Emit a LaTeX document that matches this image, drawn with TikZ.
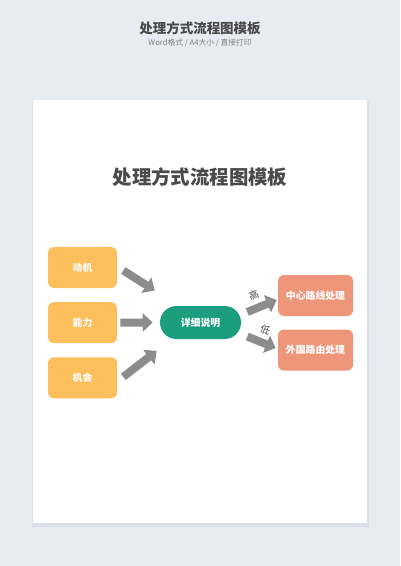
\documentclass[tikz,border=0pt]{standalone}
\usepackage{fontspec}
\setmainfont{Noto Sans CJK SC}
\usetikzlibrary{positioning,arrows.meta,calc}
\definecolor{bgcolor}{HTML}{E8EBF2}
\definecolor{shadowcolor}{HTML}{DCDFE7}
\definecolor{boxorange}{HTML}{FDBE5C}
\definecolor{boxgreen}{HTML}{1B9E7E}
\definecolor{boxsalmon}{HTML}{EE967A}
\definecolor{arrowgray}{HTML}{8C8C8C}
\definecolor{titlegray}{HTML}{4A4A4A}
\tikzset{
  inputbox/.style={fill = boxorange, rounded corners = 1.5mm, minimum width = 17.25mm, minimum height = 10.25mm, text = white, font = \bfseries\fontsize{7}{8}\selectfont},
  midbox/.style={fill = boxgreen, rounded corners = 4.1mm, minimum width = 20.25mm, minimum height = 8.25mm, text = white, font = \bfseries\fontsize{7}{8}\selectfont},
  outbox/.style={fill = boxsalmon, rounded corners = 1.5mm, minimum width = 18.75mm, minimum height = 10.25mm, text = white, font = \bfseries\fontsize{7}{8}\selectfont},
  blockarrow/.style={draw = arrowgray, line width = 2mm, -{Triangle[length = 2.5mm, width = 4.5mm]}},
  arrowlabel/.style={text = titlegray, font = \fontsize{7}{8}\selectfont, inner sep = 1pt}
}
\begin{document}
\begin{tikzpicture}[x = 0.25mm, y = -0.25mm]
\fill[bgcolor] (0,0) rectangle (400,566);
\fill[shadowcolor] (32,101) rectangle (369,527);
\fill[white] (33,100) rectangle (367,523);
\node[text = titlegray, font = \bfseries\fontsize{9.6}{11}\selectfont] (header) at (200,28) {处理方式流程图模板};
\node[text = gray, font = \fontsize{5.5}{6.5}\selectfont] (subtitle) at (200,43) {Word格式 / A4大小 / 直接打印};
\node[text = titlegray, font = \bfseries\fontsize{13.8}{16}\selectfont] (title) at (200,177) {处理方式流程图模板};
\node[inputbox] (dongji) at (82.5,267.5) {动机};
\node[inputbox, below = 3.4mm of dongji] (nengli) {能力};
\node[inputbox, below = 3.4mm of nengli] (jihui) {机会};
\node[midbox] (xiangxi) at (200.5,322.5) {详细说明};
\node[outbox] (zhongxin) at (315.5,295.5) {中心路线处理};
\node[outbox, below = 3.25mm of zhongxin] (waiguo) {外国路由处理};
\draw[blockarrow] ($(dongji.east)+(6,3)$) -- ($(xiangxi.west)+(-5,-32)$);
\draw[blockarrow] ($(nengli.east)+(3,0)$) -- ($(xiangxi.west)+(-7,0)$);
\draw[blockarrow] ($(jihui.east)+(6,-1)$) -- ($(xiangxi.west)+(-3,28.5)$);
\draw[blockarrow] ($(xiangxi.east)+(6,-10.5)$) -- ($(zhongxin.west)+(-1,4.5)$) node[arrowlabel, pos = 0.35, above = 0.9mm, rotate = 22] {高};
\draw[blockarrow] ($(xiangxi.east)+(6,14)$) -- ($(waiguo.west)+(-2,-2)$) node[arrowlabel, pos = 0.5, above = 0.9mm, rotate = -22] {低};
\end{tikzpicture}
\end{document}
